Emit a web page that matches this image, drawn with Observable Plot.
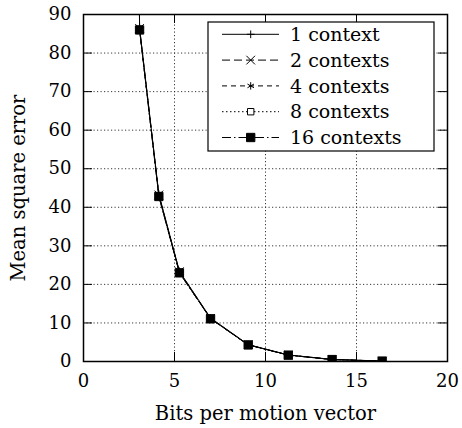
<!DOCTYPE html>
<html>
<head>
<meta charset="utf-8">
<script src="https://cdn.jsdelivr.net/npm/d3@7"></script>
<script src="https://cdn.jsdelivr.net/npm/@observablehq/plot@0.6"></script>
<style>
  html, body { margin: 0; padding: 0; background: white; }
</style>
</head>
<body>
<div id="chart"></div>
<script>
// Rate–distortion curves for motion-vector coding with a varying number of contexts.
const seriesNames = ["1 context", "2 contexts", "4 contexts", "8 contexts", "16 contexts"];

// Bits per motion vector at each operating point (the first point lies above the y range).
const bits = [2.95, 3.08, 4.14, 5.27, 6.98, 9.05, 11.25, 13.66, 16.41];

// Mean square error for each context count.
const mse1  = [205, 86.6, 43.4, 23.4, 11.3, 4.4, 1.70, 0.55, 0.12];
const mse2  = [203, 86.4, 43.2, 23.3, 11.2, 4.35, 1.68, 0.53, 0.11];
const mse4  = [202, 86.2, 43.0, 23.1, 11.15, 4.3, 1.66, 0.51, 0.10];
const mse8  = [201, 86.1, 42.9, 23.0, 11.1, 4.3, 1.65, 0.50, 0.10];
const mse16 = [200, 86.0, 42.8, 23.0, 11.07, 4.3, 1.65, 0.50, 0.10];

const xTicks = [0, 5, 10, 15, 20];
const yTicks = [0, 10, 20, 30, 40, 50, 60, 70, 80, 90];

const xLabel = "Bits per motion vector";
const yLabel = "Mean square error";

// Per-series drawing style: dash pattern, marker symbol, marker radius, marker fill.
const styles = [
  {dash: null,        symbol: "plus",     r: 2.6,  fill: "none"},
  {dash: "8,4",       symbol: "times",    r: 4.0,  fill: "none"},
  {dash: "5,4",       symbol: "asterisk", r: 3.5,  fill: "none"},
  {dash: "1.5,2.5",   symbol: "square",   r: 3.6,  fill: "white"},
  {dash: "9,3,1.5,3", symbol: "square",   r: 4.7,  fill: "black"}
];

const mseSeries = [mse1, mse2, mse4, mse8, mse16];
const rows = seriesNames.map((name, i) =>
  bits.map((b, j) => ({series: name, bits: b, mse: mseSeries[i][j]})));

const W = 462, H = 428;
const mL = 83, mR = 15, mT = 14, mB = 67;
const innerW = W - mL - mR, innerH = H - mT - mB;
const tickLen = 9;
const serif = "'DejaVu Serif', 'Liberation Serif', serif";
const labelSize = 19.5, tickSize = 18;

const marks = [
  // dotted grid at the interior ticks
  Plot.gridX(xTicks.slice(1, -1), {stroke: "#222", strokeOpacity: 0.9, strokeDasharray: "1.2,2.3"}),
  Plot.gridY(yTicks.slice(1, -1), {stroke: "#222", strokeOpacity: 0.9, strokeDasharray: "1.2,2.3"}),
  // inward tick marks on all four sides
  Plot.gridX(xTicks, {stroke: "black", strokeOpacity: 1, insetTop: innerH - tickLen}),
  Plot.gridX(xTicks, {stroke: "black", strokeOpacity: 1, insetBottom: innerH - tickLen}),
  Plot.gridY(yTicks, {stroke: "black", strokeOpacity: 1, insetRight: innerW - tickLen}),
  Plot.gridY(yTicks, {stroke: "black", strokeOpacity: 1, insetLeft: innerW - tickLen}),
  Plot.axisX(xTicks, {tickSize: 0, tickPadding: 13, label: null, fontSize: tickSize}),
  Plot.axisY(yTicks, {tickSize: 0, tickPadding: 12, label: null, fontSize: tickSize})
];

rows.forEach((data, i) => {
  const s = styles[i];
  marks.push(Plot.line(data, {
    x: "bits", y: "mse", stroke: "black", strokeWidth: 1,
    strokeDasharray: s.dash, clip: "frame"
  }));
});
rows.forEach((data, i) => {
  const s = styles[i];
  marks.push(Plot.dot(data, {
    x: "bits", y: "mse", symbol: s.symbol, r: s.r,
    stroke: "black", strokeWidth: 1, fill: s.fill, clip: "frame"
  }));
});

marks.push(
  Plot.frame({stroke: "black", strokeWidth: 1.5}),
  Plot.text([xLabel], {frameAnchor: "bottom", dy: 52, lineAnchor: "middle", textAnchor: "middle", fontSize: labelSize}),
  Plot.text([yLabel], {frameAnchor: "left", dx: -65, rotate: -90, lineAnchor: "middle", textAnchor: "middle", fontSize: labelSize})
);

const chart = Plot.plot({
  width: W, height: H,
  marginLeft: mL, marginRight: mR, marginTop: mT, marginBottom: mB,
  style: {fontFamily: serif, fontSize: "16px", background: "white", color: "black"},
  x: {domain: [0, 20], ticks: xTicks},
  y: {domain: [0, 90], ticks: yTicks},
  marks
});
document.getElementById("chart").append(chart);

// Legend box in the upper right of the plot frame.
const svg = d3.select(chart);
const lg = svg.append("g")
  .attr("font-family", serif).attr("font-size", 19).attr("text-anchor", "start");
const box = {x: 208, y: 22, w: 226, h: 129};
lg.append("rect")
  .attr("x", box.x).attr("y", box.y).attr("width", box.w).attr("height", box.h)
  .attr("fill", "white").attr("stroke", "black").attr("stroke-width", 1.2);

const symbolTypes = {
  plus: d3.symbolPlus, times: d3.symbolTimes,
  asterisk: d3.symbolAsterisk, square: d3.symbolSquare
};
seriesNames.forEach((name, i) => {
  const s = styles[i];
  const cy = box.y + 12.3 + i * 25.8;
  const x1 = box.x + 14, x2 = box.x + 71, xm = box.x + 42.7;
  lg.append("line")
    .attr("x1", x1).attr("x2", x2).attr("y1", cy).attr("y2", cy)
    .attr("stroke", "black").attr("stroke-width", 1)
    .attr("stroke-dasharray", s.dash);
  lg.append("path")
    .attr("transform", `translate(${xm},${cy})`)
    .attr("d", d3.symbol(symbolTypes[s.symbol], s.r * s.r * Math.PI)())
    .attr("fill", s.fill).attr("stroke", "black").attr("stroke-width", 1);
  lg.append("text")
    .attr("x", box.x + 82).attr("y", cy).attr("dy", "0.35em")
    .attr("text-anchor", "start")
    .text(name);
});
</script>
</body>
</html>
